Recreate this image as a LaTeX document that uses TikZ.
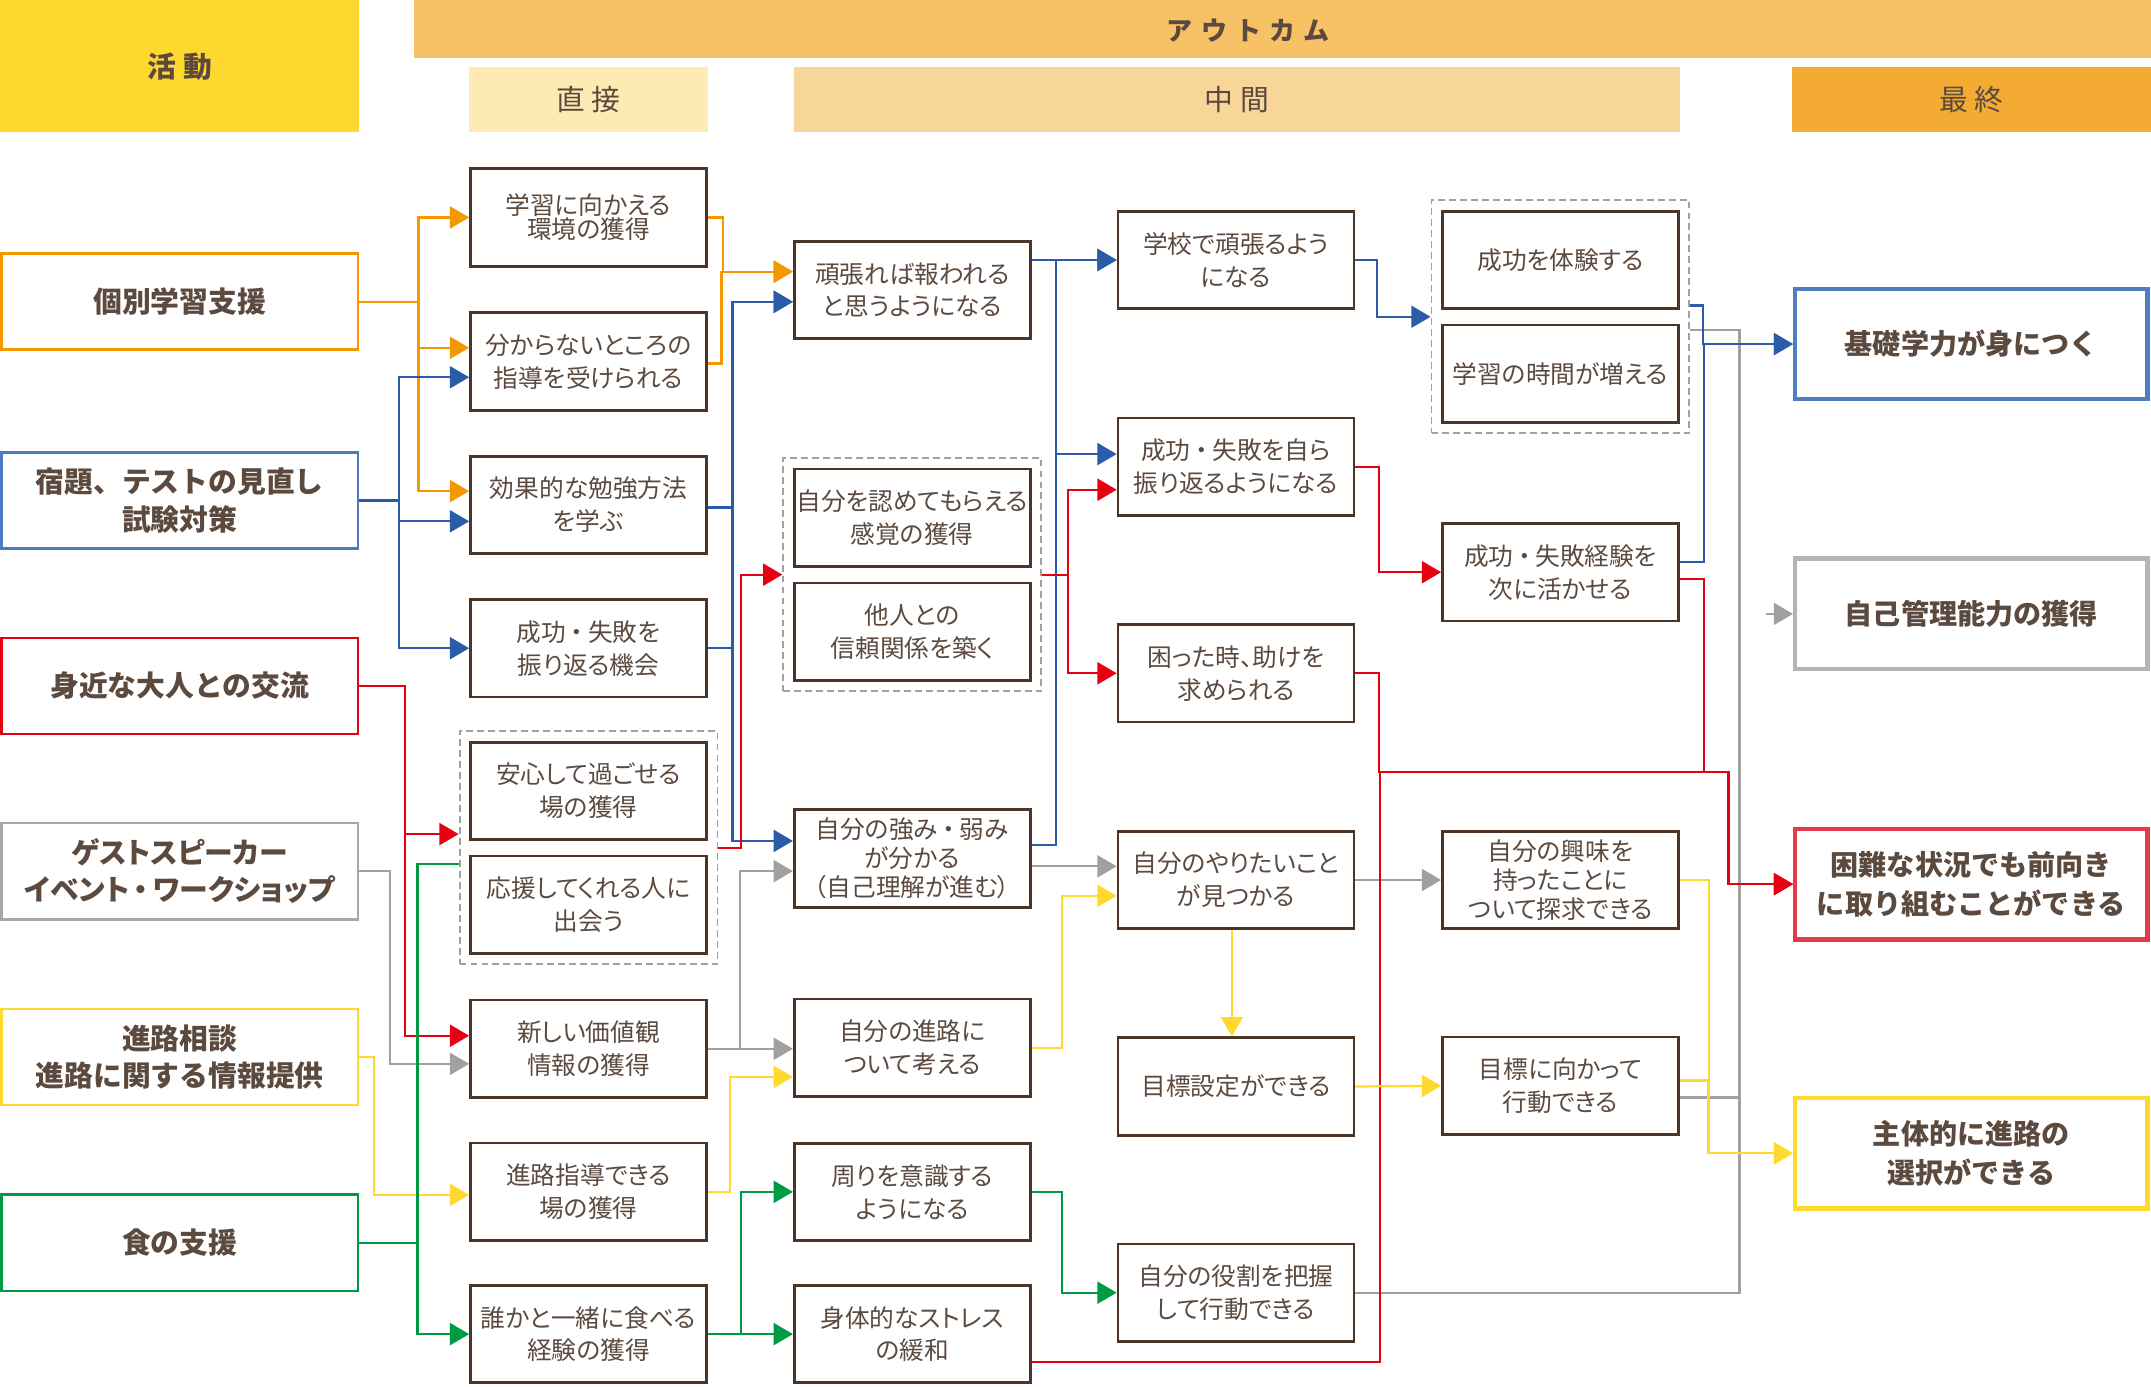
\documentclass[tikz,border=0pt]{standalone}
\usepackage{fontspec}
\setmainfont{Noto Sans CJK JP}
\newfontfamily\jpp[RawFeature={+palt}]{Noto Sans CJK JP}
\usetikzlibrary{arrows.meta,fit}
\definecolor{txt}{HTML}{5C4A3F}
\definecolor{bord}{HTML}{4A3526}
\definecolor{cOr}{HTML}{F39800}
\definecolor{cBl}{HTML}{2A5CAA}
\definecolor{cRd}{HTML}{E60012}
\definecolor{cGy}{HTML}{A0A0A0}
\definecolor{cYe}{HTML}{FFD92F}
\definecolor{cGn}{HTML}{009944}
\definecolor{hAct}{HTML}{FDD82F}
\definecolor{hOut}{HTML}{F7C266}
\definecolor{hDir}{HTML}{FDEBB3}
\definecolor{hMid}{HTML}{F8D599}
\definecolor{hFin}{HTML}{F4AB34}
\definecolor{aBl}{HTML}{4A7BBF}
\definecolor{aGy}{HTML}{A8A8A8}
\definecolor{fBl}{HTML}{4F7DBE}
\definecolor{fGy}{HTML}{B4B4B4}
\definecolor{fRd}{HTML}{E8364A}
\newcommand{\md}{\hspace{3.5pt}・\hspace{3.5pt}}
\tikzset{
  box/.style={draw=bord, line width=2pt, fill=white, minimum width=172pt, minimum height=71pt,
    inner sep=0pt, align=center, text=txt, font=\jpp\fontsize{18}{24}\selectfont},
  act/.style={line width=2pt, fill=white, minimum width=260pt, minimum height=70pt,
    inner sep=0pt, align=center, text=txt, font=\bfseries\fontsize{21}{27.5}\selectfont},
  fin/.style={line width=3.2pt, fill=white, minimum width=256.8pt, minimum height=80.5pt,
    inner sep=0pt, align=center, text=txt, font=\bfseries\fontsize{20.5}{28}\selectfont},
  hdr/.style={inner sep=0pt, text=txt, font=\fontsize{21}{24}\selectfont},
  grp/.style={draw=cGy, line width=1.4pt, dash pattern=on 5pt off 3pt, inner sep=7pt},
  con/.style={line width=1.6pt},
  arr/.style={con, -{Triangle[length=14pt,width=16pt]}},
}
\begin{document}
\begin{tikzpicture}[x=1pt,y=-1pt]
\useasboundingbox (0,0) rectangle (1568,1010.35);

% headers
\node[hdr, fill=hAct, minimum width=262pt, minimum height=96.5pt, font=\bfseries\fontsize{21}{24}\selectfont] (hact) at (131,48.25) {活\hspace{5pt}動};
\node[fill=hOut, minimum width=1266pt, minimum height=42.5pt, inner sep=0pt] (hout) at (935,21.25) {};
\node[hdr, font=\bfseries\fontsize{19}{22}\selectfont] (houtt) at (910,22) {ア\hspace{6pt}ウ\hspace{6pt}ト\hspace{6pt}カ\hspace{6pt}ム};
\node[hdr, fill=hDir, minimum width=174pt, minimum height=48pt] (hdir) at (429,72.5) {直\hspace{5pt}接};
\node[hdr, fill=hMid, minimum width=646pt, minimum height=48pt] (hmid) at (901.5,72.5) {中\hspace{5pt}間};
\node[hdr, fill=hFin, minimum width=262pt, minimum height=48pt] (hfin) at (1437,72.5) {最\hspace{5pt}終};

% activities
\node[act, draw=cOr] (kobetsu) at (131,220) {個別学習支援};
\node[act, draw=aBl] (shukudai) at (131,364.8) {宿題、テストの見直し\\試験対策};
\node[act, draw=cRd] (mijika) at (131,500) {身近な大人との交流};
\node[act, draw=aGy, font=\jpp\bfseries\fontsize{21}{27.5}\selectfont] (guest) at (131,635) {ゲストスピーカー\\イベント\md ワークショップ};
\node[act, draw=cYe] (soudan) at (131,770.5) {進路相談\\進路に関する情報提供};
\node[act, draw=cGn] (shoku) at (131,906) {食の支援};

% direct
\node[box, font=\jpp\fontsize{18}{17.5}\selectfont] (gakushu) at (429,158.5) {学習に向かえる\\環境の獲得};
\node[box] (wakaranai) at (429,263.5) {分からないところの\\指導を受けられる};
\node[box] (koukateki) at (429,368) {効果的な勉強方法\\を学ぶ};
\node[box] (kikai) at (429,472.5) {成功\md 失敗を\\振り返る機会};
\node[box] (anshin) at (429,576.5) {安心して過ごせる\\場の獲得};
\node[box] (ouen) at (429,659.5) {応援してくれる人に\\出会う};
\node[box] (atarashii) at (429,764.5) {新しい価値観\\情報の獲得};
\node[box] (shidou) at (429,868.7) {進路指導できる\\場の獲得};
\node[box] (dareka) at (429,972.5) {誰かと一緒に食べる\\経験の獲得};
\node[grp, fit=(anshin)(ouen)] (grp1) {};

% middle column 1
\node[box] (ganbare) at (665,211.3) {頑張れば報われる\\と思うようになる};
\node[box] (mitomete) at (665,377.3) {自分を認めてもらえる\\感覚の獲得};
\node[box] (tanin) at (665,460.5) {他人との\\信頼関係を築く};
\node[box, font=\jpp\fontsize{18}{21}\selectfont] (tsuyomi) at (665,625.8) {自分の強み\md 弱み\\が分かる\\（自己理解が進む）};
\node[box] (shinro) at (665,763.8) {自分の進路に\\ついて考える};
\node[box] (mawari) at (665,868.8) {周りを意識する\\ようになる};
\node[box] (shintai) at (665,972.5) {身体的なストレス\\の緩和};
\node[grp, fit=(mitomete)(tanin)] (grp2) {};

% middle column 2
\node[box] (gakkou) at (901,189.5) {学校で頑張るよう\\になる};
\node[box] (mizukara) at (901,340.2) {成功\md 失敗を自ら\\振り返るようになる};
\node[box] (komatta) at (901,490.8) {困った時、助けを\\求められる};
\node[box] (yaritai) at (901,641.5) {自分のやりたいこと\\が見つかる};
\node[box] (mokuhyo) at (901,792) {目標設定ができる};
\node[box] (yakuwari) at (901,942.3) {自分の役割を把握\\して行動できる};

% middle column 3
\node[box] (taiken) at (1137.5,189.4) {成功を体験する};
\node[box] (jikan) at (1137.5,272.4) {学習の時間が増える};
\node[box] (keiken) at (1137.5,417.1) {成功\md 失敗経験を\\次に活かせる};
\node[box, font=\jpp\fontsize{18}{21}\selectfont] (kyoumi) at (1137.5,641.5) {自分の興味を\\持ったことに\\ついて探求できる};
\node[box] (mukatte) at (1137.5,791.5) {目標に向かって\\行動できる};
\node[grp, fit=(taiken)(jikan)] (grp3) {};

% final
\node[fin, draw=fBl] (kiso) at (1437,250.8) {基礎学力が身につく};
\node[fin, draw=fGy] (jiko) at (1437,447.5) {自己管理能力の獲得};
\node[fin, draw=fRd] (konnan) at (1437,644.5) {困難な状況でも前向き\\に取り組むことができる};
\node[fin, draw=cYe] (shutai) at (1437,840.7) {主体的に進路の\\選択ができる};

% ---------- connectors ----------
% gray trunk first
\draw[con,cGy] ([yshift=-9.8pt]grp3.east) -| (yakuwari.east -| 1268,0) -- (yakuwari.east);
\draw[con,cGy] ([yshift=-8.5pt]mukatte.east) -- ++(43,0);
\coordinate (stub) at (1287,447.5);
\draw[arr,cGy] (stub) -- (jiko.west);
\draw[arr,cGy] (guest.east) -- (guest.east -| 284.5,0) |- ([yshift=-11pt]atarashii.west);
\draw[arr,cGy] (atarashii.east) -- (shinro.west |- atarashii.east);
\draw[arr,cGy] (atarashii.east) -- (atarashii.east -| 539.5,0) |- ([yshift=-9.2pt]tsuyomi.west);
\draw[arr,cGy] (tsuyomi.east |- 0,631.5) -- (yaritai.west |- 0,631.5);
\draw[arr,cGy] (yaritai.east) -- (kyoumi.west);

% orange
\draw[arr,cOr] (kobetsu.east) -- (kobetsu.east -| 305,0) |- (gakushu.west);
\draw[arr,cOr] (kobetsu.east) -- (kobetsu.east -| 305,0) |- ([yshift=10pt]wakaranai.west);
\draw[arr,cOr] (kobetsu.east) -- (kobetsu.east -| 305,0) |- ([yshift=10pt]koukateki.west);
\draw[arr,cOr] (gakushu.east) -- (gakushu.east -| 527,0) |- ([yshift=13.3pt]ganbare.west);
\draw[arr,cOr] ([yshift=-1.5pt]wakaranai.east) -- ++(10,0) |- ([yshift=13.3pt]ganbare.west);

% blue
\draw[arr,cBl] (shukudai.east) -- (shukudai.east -| 291,0) |- ([yshift=-11.5pt]wakaranai.west);
\draw[arr,cBl] (shukudai.east) -- (shukudai.east -| 291,0) |- ([yshift=-12pt]koukateki.west);
\draw[arr,cBl] (shukudai.east) -- (shukudai.east -| 291,0) |- (kikai.west);
\draw[arr,cBl] ([yshift=-2pt]koukateki.east) -- ++(18,0) |- ([yshift=-8.7pt]ganbare.west);
\draw[arr,cBl] (kikai.east) -- ++(18,0) |- ([yshift=-8.7pt]ganbare.west);
\draw[arr,cBl] (kikai.east) -- ++(18,0) |- ([yshift=12.8pt]tsuyomi.west);
\draw[arr,cBl] (ganbare.east |- gakkou.west) -- (gakkou.west);
\draw[arr,cBl] ([yshift=9.8pt]tsuyomi.east) -- ++(18,0) |- ([yshift=9.2pt]mizukara.west);
\draw[arr,cBl] ([yshift=9.8pt]tsuyomi.east) -- ++(18,0) |- (gakkou.west);
\draw[arr,cBl] (gakkou.east) -- ++(16,0) |- (grp3.west);
\draw[arr,cBl] ([yshift=8.2pt]grp3.east) -- ++(9.5,0) |- (kiso.west);
\draw[arr,cBl] ([yshift=7.6pt]keiken.east) -- ++(17.5,0) |- (kiso.west);

% red
\draw[arr,cRd] (mijika.east) -- (mijika.east -| 295,0) |- ([yshift=10pt]grp1.west);
\draw[arr,cRd] (mijika.east) -- (mijika.east -| 295,0) |- ([yshift=9.5pt]atarashii.west);
\draw[arr,cRd] (grp1.east) -- (grp1.east -| 540,0) |- (grp2.west);
\draw[arr,cRd] (grp2.east) -- (grp2.east -| 778.6,0) |- ([yshift=-16.8pt]mizukara.west);
\draw[arr,cRd] (grp2.east) -- (grp2.east -| 778.6,0) |- (komatta.west);
\draw[arr,cRd] (mizukara.east) -- ++(17,0) |- (keiken.west);
\draw[arr,cRd] (komatta.east) -- ++(17,0) |- (1260,563) |- (konnan.west);
\draw[arr,cRd] ([yshift=-20.5pt]shintai.east) -| (1006,563) -- (1260,563) |- (konnan.west);
\draw[arr,cRd] ([yshift=-4.9pt]keiken.east) -| (1242,563) -- (1260,563) |- (konnan.west);

% yellow
\draw[arr,cYe] (soudan.east) -- (soudan.east -| 272.6,0) |- ([yshift=-2.3pt]shidou.west);
\draw[arr,cYe] (shidou.east) -- (shidou.east -| 532,0) |- ([yshift=-21.2pt]shinro.west);
\draw[arr,cYe] (shinro.east) -- (shinro.east -| 774,0) |- ([yshift=-11.5pt]yaritai.west);
\draw[arr,cYe] ([xshift=-3pt]yaritai.south) -- ([xshift=-3pt]mokuhyo.north);
\draw[arr,cYe] (mokuhyo.east) -- (mukatte.west);
\draw[arr,cYe] (kyoumi.east) -- (kyoumi.east -| 1245.6,0) |- (shutai.west);
\draw[arr,cYe] ([yshift=3.9pt]mukatte.east) -- ++(20.6,0) |- (shutai.west);

% green
\draw[con,cGn] (shoku.east) -- (shoku.east -| 304.3,0) |- ([yshift=-12pt]grp1.west);
\draw[arr,cGn] (shoku.east) -- (shoku.east -| 304.3,0) |- (dareka.west);
\draw[arr,cGn] (dareka.east) -- (shintai.west);
\draw[arr,cGn] (dareka.east) -- (dareka.east -| 540,0) |- (mawari.west);
\draw[arr,cGn] (mawari.east) -- (mawari.east -| 774,0) |- (yakuwari.west);
\end{tikzpicture}
\end{document}
